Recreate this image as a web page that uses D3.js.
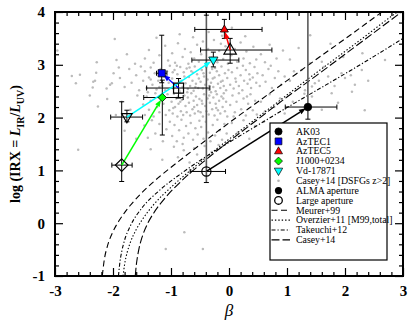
<!DOCTYPE html>
<html lang="en">
<head>
<meta charset="utf-8">
<title>IRX-beta</title>
<script src="https://d3js.org/d3.v7.min.js"></script>
<style>
body { margin: 0; background: #fff; }
svg { display: block; font-family: "Liberation Serif", "Times New Roman", serif; }
</style>
</head>
<body>
<script>
var w = 415, h = 332;
var margin = {top: 12, right: 12, bottom: 56, left: 55};

// sources (ALMA aperture -> filled, large aperture -> open)
var sources = ["AK03", "AzTEC1", "AzTEC5", "J1000+0234", "Vd-17871"];
var colors  = ["#000000", "#0000ff", "#ff0000", "#00ff00", "#00ffff"];
var shapes  = ["circle", "square", "triangle", "diamond", "triangleDown"];

var almaBeta    = [1.36, -1.16, -0.08, -1.15, -0.27];
var almaIrx     = [2.20, 2.84, 3.67, 2.38, 3.09];
var almaBetaLo  = [0.97, -1.25, -0.59, -1.47, -0.64];
var almaBetaHi  = [1.86, -1.07, 0.57, -0.79, 0.17];
var almaIrxLo   = [1.97, 2.66, 3.50, 1.67, 2.96];
var almaIrxHi   = [4.50, 3.56, 3.86, 2.71, 3.24];

var largeBeta   = [-0.39, -0.87, 0.02, -1.85, -1.76];
var largeIrx    = [0.98, 2.56, 3.28, 1.10, 2.01];
var largeBetaLo = [-0.67, -1.42, -0.49, -2.02, -2.04];
var largeBetaHi = [-0.06, -0.33, 0.74, -1.67, -1.49];
var largeIrxLo  = [0.77, 2.37, 3.03, 0.79, 1.92];
var largeIrxHi  = [3.94, 2.74, 3.50, 2.30, 2.14];

// IRX-beta relations
var meurerBeta   = [-2.185, -2.15, -2.1, -2.0, -1.9, -1.8, -1.7, -1.5, -1.2, -0.8, -0.4, 0, 0.5, 1.0, 1.5, 2.0, 2.5, 2.7];
var meurerIrx    = [-1.0, -0.69, -0.45, -0.16, 0.04, 0.2, 0.34, 0.58, 0.88, 1.23, 1.57, 1.9, 2.3, 2.7, 3.1, 3.49, 3.89, 4.05];
var overzierBeta = [-1.827, -1.8, -1.75, -1.7, -1.6, -1.5, -1.3, -1.0, -0.6, -0.2, 0.3, 0.8, 1.3, 1.8, 2.3, 2.8, 3.0];
var overzierIrx  = [-1.0, -0.78, -0.53, -0.36, -0.12, 0.06, 0.35, 0.68, 1.06, 1.42, 1.84, 2.26, 2.68, 3.09, 3.5, 3.92, 4.08];
var takeuchiBeta = [-1.906, -1.88, -1.85, -1.8, -1.7, -1.5, -1.2, -0.8, -0.4, 0, 0.5, 1.0, 1.5, 2.0, 2.5, 3.0];
var takeuchiIrx  = [-1.0, -0.73, -0.54, -0.32, -0.05, 0.29, 0.62, 0.96, 1.26, 1.53, 1.86, 2.19, 2.51, 2.83, 3.16, 3.5];
var caseyBeta    = [-1.616, -1.6, -1.58, -1.55, -1.5, -1.4, -1.3, -1.1, -0.8, -0.4, 0, 0.5, 1.0, 1.5, 2.0, 2.5, 3.0];
var caseyIrx     = [-1.0, -0.81, -0.65, -0.47, -0.27, 0.0, 0.19, 0.48, 0.82, 1.2, 1.55, 1.97, 2.39, 2.79, 3.2, 3.61, 4.02];

// Casey+14 DSFGs z>2, [beta, IRX]
var dsfg = [
 [-1.97,3.49],[-0.85,3.58],[-0.62,3.52],[-0.35,3.62],[-0.12,3.55],[0.28,3.54],[1.40,3.56],[-1.25,3.51],[0.05,3.7],[-2.96,3.27],
 [-2.28,3.05],[-1.94,3.09],[-1.76,3.2],[-1.62,3.02],[-1.45,3.12],[-1.38,3.28],[-1.3,3.04],[-1.2,3.18],[-1.1,3.36],[-1.05,3.08],
 [-0.98,3.22],[-0.93,3.04],[-0.88,3.41],[-0.8,3.15],[-0.76,3.3],[-0.7,3.02],[-0.66,3.24],[-0.6,3.12],[-0.55,3.38],[-0.52,3.06],
 [-0.48,3.2],[-0.45,3.44],[-0.4,3.03],[-0.36,3.3],[-0.3,3.14],[-0.26,3.47],[-0.2,3.05],[-0.17,3.26],[-0.1,3.11],[-0.06,3.35],[-0.02,3.02],[-0.14,3.4],
 [0.04,3.18],[0.1,3.3],[0.14,3.06],[0.2,3.42],[0.25,3.12],[0.3,3.25],[0.36,3.03],[0.42,3.34],[0.47,3.1],
 [0.55,3.2],[0.62,3.05],[0.7,3.38],[0.82,3.12],[0.93,3.27],[1.05,3.1],[1.4,3.03],[1.2,3.32],[1.6,3.06],[1.97,3.15],[1.75,3.4],[2.3,3.22],[2.69,3.09],
 [-2.71,2.79],[-2.57,2.81],[-2.64,2.65],[-2.34,2.68],[-2.29,2.85],[-2.31,2.7],[-2.35,2.57],[-2.11,2.55],[-2.05,2.62],[-2.02,2.65],[-1.99,2.84],
 [-1.88,2.75],[-1.8,2.58],[-1.72,2.92],[-1.68,2.66],[-1.6,2.8],[-1.55,2.52],[-1.52,2.97],[-1.9,2.95],
 [-1.48,2.7],[-1.45,2.88],[-1.42,2.56],[-1.38,2.76],[-1.35,2.95],[-1.32,2.62],[-1.28,2.84],[-1.25,2.53],[-1.22,2.7],[-1.18,2.92],[-1.15,2.6],[-1.12,2.78],[-1.1,2.52],[-1.07,2.88],[-1.04,2.66],[-1.02,2.98],[-1.35,2.72],[-1.2,2.58],
 [-0.98,2.74],[-0.96,2.55],[-0.94,2.9],[-0.91,2.63],[-0.89,2.82],[-0.86,2.52],[-0.84,2.96],[-0.82,2.7],[-0.8,2.58],[-0.78,2.86],[-0.75,2.65],[-0.73,2.93],[-0.71,2.54],[-0.69,2.77],[-0.67,2.6],
 [-0.65,2.88],[-0.63,2.7],[-0.61,2.51],[-0.59,2.97],[-0.57,2.64],[-0.55,2.82],[-0.53,2.56],[-0.52,2.74],[-0.9,2.98],[-0.77,2.78],[-0.62,2.85],[-0.68,2.95],[-0.85,2.68],[-0.58,2.58],[-0.97,2.86],
 [-0.49,2.68],[-0.47,2.9],[-0.45,2.55],[-0.43,2.78],[-0.41,2.62],[-0.39,2.96],[-0.37,2.72],[-0.35,2.53],[-0.33,2.85],[-0.31,2.66],[-0.29,2.92],[-0.27,2.58],[-0.25,2.76],[-0.23,2.5],[-0.21,2.88],
 [-0.19,2.64],[-0.17,2.8],[-0.15,2.56],[-0.13,2.97],[-0.11,2.7],[-0.09,2.6],[-0.07,2.84],[-0.05,2.52],[-0.03,2.75],[-0.01,2.9],[-0.44,2.84],[-0.34,2.6],[-0.24,2.94],[-0.14,2.68],[-0.28,2.74],
 [0.02,2.62],[0.05,2.86],[0.08,2.55],[0.11,2.74],[0.14,2.94],[0.17,2.6],[0.2,2.8],[0.23,2.52],[0.26,2.7],[0.29,2.9],[0.32,2.64],[0.35,2.82],[0.38,2.56],[0.41,2.76],[0.44,2.96],[0.47,2.66],[0.12,2.68],[0.24,2.98],[0.36,2.72],[0.49,2.84],
 [0.53,2.6],[0.58,2.8],[0.63,2.68],[0.68,2.92],[0.74,2.56],[0.79,2.75],[0.85,2.88],[0.9,2.62],[0.96,2.78],[0.72,2.98],
 [1.05,2.7],[1.12,2.88],[1.25,2.9],[1.31,2.52],[1.48,2.65],[1.43,2.59],[1.63,2.96],[1.71,2.78],[1.94,2.84],[2.0,2.75],[1.55,2.7],[1.82,2.6],[2.17,2.62],[2.29,2.9],[2.1,2.8],[2.4,2.7],
 [-2.26,2.21],[-2.1,2.35],[-2.4,2.42],[-1.85,2.3],[-1.7,2.15],[-1.58,2.42],[-1.95,2.05],
 [-1.48,2.25],[-1.45,2.05],[-1.42,2.4],[-1.38,2.15],[-1.35,2.32],[-1.3,2.02],[-1.27,2.46],[-1.24,2.2],[-1.2,2.1],[-1.16,2.38],[-1.13,2.26],[-1.09,2.05],[-1.06,2.44],[-1.03,2.14],[-1.4,2.48],
 [-0.99,2.3],[-0.97,2.08],[-0.95,2.45],[-0.93,2.2],[-0.91,2.36],[-0.89,2.02],[-0.87,2.26],[-0.85,2.48],[-0.83,2.12],[-0.81,2.34],[-0.79,2.05],[-0.77,2.42],[-0.75,2.22],[-0.73,2.1],[-0.71,2.38],
 [-0.69,2.28],[-0.67,2.04],[-0.65,2.46],[-0.63,2.16],[-0.61,2.32],[-0.59,2.08],[-0.57,2.4],[-0.55,2.24],[-0.53,2.12],[-0.51,2.35],[-0.96,2.18],[-0.84,2.3],[-0.72,2.48],[-0.6,2.2],[-0.88,2.4],
 [-0.49,2.1],[-0.47,2.32],[-0.45,2.02],[-0.43,2.44],[-0.41,2.22],[-0.39,2.12],[-0.37,2.36],[-0.35,2.06],[-0.33,2.28],[-0.31,2.48],[-0.29,2.16],[-0.27,2.38],[-0.25,2.04],[-0.23,2.26],
 [-0.21,2.44],[-0.19,2.14],[-0.17,2.32],[-0.15,2.08],[-0.13,2.4],[-0.11,2.2],[-0.09,2.46],[-0.07,2.12],[-0.05,2.3],[-0.03,2.02],[-0.46,2.26],[-0.34,2.42],[-0.22,2.18],[-0.1,2.36],
 [0.02,2.24],[0.06,2.42],[0.1,2.1],[0.13,2.3],[0.17,2.46],[0.21,2.16],[0.25,2.36],[0.29,2.04],[0.33,2.26],[0.37,2.44],[0.41,2.14],[0.45,2.32],[0.48,2.06],[0.08,2.02],[0.31,2.4],
 [0.55,2.3],[0.62,2.12],[0.7,2.44],[0.78,2.2],[0.88,2.36],[0.96,2.08],[1.1,2.3],[1.3,2.45],[1.43,2.4],[1.77,2.46],[1.88,2.28],[1.6,2.15],[2.34,2.14],[2.12,2.49],
 [-1.8,1.75],[-1.6,1.6],[-1.46,1.85],[-1.4,1.62],[-1.33,1.95],[-1.27,1.7],[-1.2,1.88],[-1.14,1.55],[-1.08,1.78],[-1.02,1.92],
 [-0.98,1.65],[-0.94,1.86],[-0.9,1.55],[-0.86,1.76],[-0.82,1.96],[-0.78,1.62],[-0.74,1.84],[-0.7,1.7],[-0.66,1.9],[-0.62,1.58],[-0.58,1.8],[-0.54,1.68],[-0.51,1.94],[-0.8,1.5],
 [-0.48,1.82],[-0.44,1.6],[-0.4,1.92],[-0.36,1.72],[-0.32,1.55],[-0.28,1.86],[-0.24,1.66],[-0.2,1.96],[-0.16,1.76],[-0.12,1.58],[-0.08,1.88],[-0.04,1.7],
 [0.05,1.9],[0.15,1.72],[0.25,1.95],[0.35,1.6],[0.45,1.84],[0.6,1.92],[0.8,1.75],
 [-2.6,1.39],[-1.35,1.4],[-1.15,1.2],[-0.95,1.45],[-0.88,1.25],[-0.78,1.38],[-0.68,1.15],[-0.6,1.42],[-0.55,1.3],[-0.42,1.46],[-0.3,1.35],[-0.18,1.48],
 [-0.77,-0.17],[-1.09,-0.49],[-0.45,-0.49]
];

var legendLabels = ["AK03", "AzTEC1", "AzTEC5", "J1000+0234", "Vd-17871", "Casey+14 [DSFGs z>2]",
  "ALMA aperture", "Large aperture", "Meurer+99", "Overzier+11 [M99,total]", "Takeuchi+12", "Casey+14"];

var svg = d3.select("body").append("svg").attr("width", w).attr("height", h);

var x = d3.scaleLinear().domain([-3, 3]).range([margin.left, w - margin.right]);
var y = d3.scaleLinear().domain([-1, 4]).range([h - margin.bottom, margin.top]);

var plotBottom = h - margin.bottom, plotLeft = margin.left, plotRight = w - margin.right, plotTop = margin.top;

svg.append("clipPath").attr("id", "plot")
  .append("rect")
  .attr("x", plotLeft).attr("y", plotTop)
  .attr("width", plotRight - plotLeft).attr("height", plotBottom - plotTop);

var plot = svg.append("g").attr("clip-path", "url(#plot)");

// grey DSFG cloud
plot.selectAll(".dot")
  .data(dsfg)
  .enter().append("circle")
  .attr("class", "dot")
  .attr("cx", function(d) { return x(d[0]); })
  .attr("cy", function(d) { return y(d[1]); })
  .attr("r", 1.25)
  .style("fill", "#bbbbbb");

// relations
var curves = [
  {b: meurerBeta, v: meurerIrx, dash: "6,3.5"},
  {b: overzierBeta, v: overzierIrx, dash: "1.4,2"},
  {b: takeuchiBeta, v: takeuchiIrx, dash: "4,2,1.2,2"},
  {b: caseyBeta, v: caseyIrx, dash: "8,3"}
];
var line = d3.line()
  .x(function(d) { return x(d[0]); })
  .y(function(d) { return y(d[1]); })
  .curve(d3.curveMonotoneX);

curves.forEach(function(c) {
  plot.append("path")
    .datum(c.b.map(function(b, i) { return [b, c.v[i]]; }))
    .attr("d", line)
    .style("fill", "none")
    .style("stroke", "#000")
    .style("stroke-width", 1.1)
    .style("stroke-dasharray", c.dash);
});

function circlePath(r) {
  var p = d3.path();
  p.arc(0, 0, r, 0, 2 * Math.PI);
  p.closePath();
  return p.toString();
}
function shapePath(s, r) {
  if (s == "circle") return circlePath(r);
  if (s == "square") return "M" + (-r) + "," + (-r) + "H" + r + "V" + r + "H" + (-r) + "Z";
  if (s == "triangle") return "M0," + (-r * 1.1) + "L" + r + "," + (r * 0.65) + "L" + (-r) + "," + (r * 0.65) + "Z";
  if (s == "triangleDown") return "M0," + (r * 1.1) + "L" + r + "," + (-r * 0.65) + "L" + (-r) + "," + (-r * 0.65) + "Z";
  if (s == "diamond") return "M0," + (-r) + "L" + r + ",0L0," + r + "L" + (-r) + ",0Z";
}

// error bars
function errorBar(g, bx, by, bl, bh, il, ih, vcol) {
  var cap = 2.5;
  g.append("line").attr("x1", x(bl)).attr("x2", x(bh)).attr("y1", y(by)).attr("y2", y(by))
    .style("stroke", "#000").style("stroke-width", 1);
  [bl, bh].forEach(function(v) {
    g.append("line").attr("x1", x(v)).attr("x2", x(v)).attr("y1", y(by) - cap).attr("y2", y(by) + cap)
      .style("stroke", "#000").style("stroke-width", 1);
  });
  g.append("line").attr("x1", x(bx)).attr("x2", x(bx)).attr("y1", y(il)).attr("y2", y(ih))
    .style("stroke", vcol).style("stroke-width", vcol == "#000" ? 1 : 1.6);
  [il, ih].forEach(function(v) {
    g.append("line").attr("x1", x(bx) - cap).attr("x2", x(bx) + cap).attr("y1", y(v)).attr("y2", y(v))
      .style("stroke", "#000").style("stroke-width", 1);
  });
}

var eb = plot.append("g");
sources.forEach(function(s, i) {
  var vcol = i == 0 ? "#5a5a5a" : "#000";
  errorBar(eb, largeBeta[i], largeIrx[i], largeBetaLo[i], largeBetaHi[i], largeIrxLo[i], largeIrxHi[i], vcol);
  errorBar(eb, almaBeta[i], almaIrx[i], almaBetaLo[i], almaBetaHi[i], almaIrxLo[i], almaIrxHi[i], vcol);
});

// arrows large -> ALMA
var almaR = [3.8, 3.6, 4, 4.2, 4.6];
var largeR = [4.6, 5, 6.2, 6.3, 5.2];
sources.forEach(function(s, i) {
  var x1 = x(largeBeta[i]), y1 = y(largeIrx[i]);
  var x2 = x(almaBeta[i]), y2 = y(almaIrx[i]);
  var dx = x2 - x1, dy = y2 - y1, len = Math.sqrt(dx * dx + dy * dy);
  var ux = dx / len, uy = dy / len;
  var tx = x2 - ux * almaR[i] * 0.6, ty = y2 - uy * almaR[i] * 0.6;
  var hl = 7, hw = 2.6;
  var bx = tx - ux * hl, by = ty - uy * hl;
  plot.append("line").attr("x1", x1).attr("y1", y1).attr("x2", bx).attr("y2", by)
    .style("stroke", colors[i]).style("stroke-width", 1.5);
  plot.append("path")
    .attr("d", "M" + tx + "," + ty + "L" + (bx - uy * hw) + "," + (by + ux * hw) + "L" + (bx + uy * hw) + "," + (by - ux * hw) + "Z")
    .style("fill", colors[i]);
});

// large aperture: open symbols
sources.forEach(function(s, i) {
  plot.append("path")
    .attr("d", shapePath(shapes[i], largeR[i]))
    .attr("transform", "translate(" + x(largeBeta[i]) + "," + y(largeIrx[i]) + ")")
    .style("fill", "none").style("stroke", "#000").style("stroke-width", 1.2);
});
// ALMA aperture: filled symbols
sources.forEach(function(s, i) {
  plot.append("path")
    .attr("d", shapePath(shapes[i], almaR[i]))
    .attr("transform", "translate(" + x(almaBeta[i]) + "," + y(almaIrx[i]) + ")")
    .style("fill", colors[i]).style("stroke", "#000").style("stroke-width", 0.8);
});

// legend
var lg = svg.append("g");
lg.append("rect").attr("x", 270).attr("y", 123).attr("width", 117).attr("height", 137)
  .style("fill", "#fff").style("stroke", "#000").style("stroke-width", 1.2);
var ly0 = 131.5, lstep = 9.85, lsx = 278.5, ltx = 296;
legendLabels.forEach(function(t, i) {
  var yy = ly0 + i * lstep;
  lg.append("text").attr("x", ltx).attr("y", yy).attr("dy", "0.33em")
    .style("font-size", "9.8px").text(t);
  if (i < 5) {
    lg.append("path").attr("d", shapePath(shapes[i], [3.6, 3.4, 4, 4, 4.2][i]))
      .attr("transform", "translate(" + lsx + "," + yy + ")")
      .style("fill", colors[i]).style("stroke", "#000").style("stroke-width", 0.7);
  } else if (i == 5) {
    lg.append("circle").attr("cx", lsx).attr("cy", yy).attr("r", 1.3).style("fill", "#b4b4b4");
  } else if (i == 6) {
    lg.append("circle").attr("cx", lsx).attr("cy", yy).attr("r", 3.6).style("fill", "#000");
  } else if (i == 7) {
    lg.append("circle").attr("cx", lsx).attr("cy", yy).attr("r", 3.8)
      .style("fill", "none").style("stroke", "#000").style("stroke-width", 1.3);
  } else {
    var c = curves[i - 8];
    lg.append("line").attr("x1", 271.5).attr("x2", 290).attr("y1", yy).attr("y2", yy)
      .style("stroke", "#000").style("stroke-width", 1.1).style("stroke-dasharray", c.dash);
  }
});

// axes with inward ticks on all sides
var xMajor = [-3, -2, -1, 0, 1, 2, 3];
var yMajor = [-1, 0, 1, 2, 3, 4];
var xMinor = d3.range(-30, 31, 2).map(function(v) { return v / 10; }).filter(function(v) { return v % 1 != 0; });
var yMinor = d3.range(-10, 41, 2).map(function(v) { return v / 10; }).filter(function(v) { return v % 1 != 0; });
var plainFmt = function(d) { return String(d); };

function styleAxis(g) {
  g.attr("font-family", "'Liberation Serif', serif")
   .attr("font-size", 15)
   .attr("font-weight", "bold");
  g.select(".domain").remove();
  g.selectAll(".tick line").attr("stroke", "#000").attr("stroke-width", 1.2);
  g.selectAll(".tick text").attr("fill", "#000");
}

svg.append("g").attr("transform", "translate(0," + plotBottom + ")")
  .call(d3.axisBottom(x).tickValues(xMajor).tickSize(-8).tickPadding(9).tickFormat(plainFmt)).call(styleAxis);
svg.append("g").attr("transform", "translate(0," + plotBottom + ")")
  .call(d3.axisBottom(x).tickValues(xMinor).tickSize(-4).tickFormat("")).call(styleAxis);
svg.append("g").attr("transform", "translate(0," + plotTop + ")")
  .call(d3.axisTop(x).tickValues(xMajor).tickSize(-8).tickFormat("")).call(styleAxis);
svg.append("g").attr("transform", "translate(0," + plotTop + ")")
  .call(d3.axisTop(x).tickValues(xMinor).tickSize(-4).tickFormat("")).call(styleAxis);
svg.append("g").attr("transform", "translate(" + plotLeft + ",0)")
  .call(d3.axisLeft(y).tickValues(yMajor).tickSize(-8).tickPadding(10).tickFormat(plainFmt)).call(styleAxis);
svg.append("g").attr("transform", "translate(" + plotLeft + ",0)")
  .call(d3.axisLeft(y).tickValues(yMinor).tickSize(-4).tickFormat("")).call(styleAxis);
svg.append("g").attr("transform", "translate(" + plotRight + ",0)")
  .call(d3.axisRight(y).tickValues(yMajor).tickSize(-8).tickFormat("")).call(styleAxis);
svg.append("g").attr("transform", "translate(" + plotRight + ",0)")
  .call(d3.axisRight(y).tickValues(yMinor).tickSize(-4).tickFormat("")).call(styleAxis);

svg.append("rect").attr("x", plotLeft).attr("y", plotTop)
  .attr("width", plotRight - plotLeft).attr("height", plotBottom - plotTop)
  .style("fill", "none").style("stroke", "#000").style("stroke-width", 2);

// axis titles
svg.append("text").attr("x", x(0)).attr("y", 316)
  .attr("text-anchor", "middle").style("font-size", "17px").style("font-style", "italic").text("β");

var yt = svg.append("text")
  .attr("transform", "translate(20," + ((plotTop + plotBottom) / 2) + ") rotate(-90)")
  .attr("text-anchor", "middle").style("font-size", "14px").style("font-weight", "bold");
yt.append("tspan").text("log (IRX = ");
yt.append("tspan").style("font-style", "italic").text("L");
yt.append("tspan").attr("dy", 3.5).style("font-size", "10px").text("IR");
yt.append("tspan").attr("dy", -3.5).text("/");
yt.append("tspan").style("font-style", "italic").text("L");
yt.append("tspan").attr("dy", 3.5).style("font-size", "10px").text("UV");
yt.append("tspan").attr("dy", -3.5).text(")");
</script>
</body>
</html>
